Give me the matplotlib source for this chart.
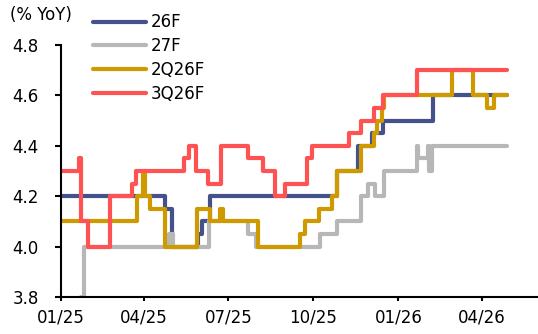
import matplotlib
matplotlib.use('Agg')
import matplotlib.pyplot as plt
import matplotlib.dates as mdates
import pandas as pd

# consensus forecasts, step changes (date, % YoY)
d_26f = ['2025-01-01', '2025-04-23', '2025-05-01', '2025-05-29', '2025-06-03', '2025-06-11',
         '2025-10-26', '2025-11-18', '2025-12-03', '2025-12-15', '2026-02-07', '2026-04-28']
v_26f = [4.2, 4.15, 4.0, 4.05, 4.1, 4.2, 4.3, 4.4, 4.45, 4.5, 4.6, 4.6]

d_27f = ['2025-01-23', '2025-01-26', '2025-04-28', '2025-05-02', '2025-06-10', '2025-07-22',
         '2025-07-31', '2025-10-08', '2025-10-27', '2025-11-22', '2025-11-29', '2025-12-07',
         '2025-12-16', '2026-01-21', '2026-01-22', '2026-02-02', '2026-02-03', '2026-02-06',
         '2026-04-28']
v_27f = [3.8, 4.0, 4.05, 4.0, 4.1, 4.05, 4.0, 4.05, 4.1, 4.2, 4.25, 4.2, 4.3, 4.4, 4.35,
         4.4, 4.3, 4.4, 4.4]

d_2q = ['2025-01-01', '2025-03-24', '2025-03-31', '2025-04-02', '2025-04-07', '2025-04-24',
        '2025-05-28', '2025-06-11', '2025-06-22', '2025-06-25', '2025-08-02', '2025-09-16',
        '2025-09-22', '2025-10-07', '2025-10-21', '2025-10-26', '2025-11-21', '2025-12-06',
        '2025-12-09', '2025-12-14', '2025-12-16', '2026-02-28', '2026-03-23', '2026-04-07',
        '2026-04-14', '2026-04-28']
v_2q = [4.1, 4.2, 4.3, 4.2, 4.15, 4.0, 4.15, 4.1, 4.15, 4.1, 4.0, 4.05, 4.1, 4.15, 4.2,
        4.3, 4.4, 4.45, 4.5, 4.55, 4.6, 4.7, 4.6, 4.55, 4.6, 4.6]

d_3q = ['2025-01-01', '2025-01-20', '2025-01-23', '2025-01-30', '2025-02-23', '2025-03-19',
        '2025-03-23', '2025-05-14', '2025-05-19', '2025-05-27', '2025-06-09', '2025-06-23',
        '2025-07-22', '2025-08-07', '2025-08-21', '2025-08-31', '2025-09-24', '2025-09-30',
        '2025-11-09', '2025-11-22', '2025-12-06', '2025-12-15', '2026-01-21', '2026-04-28']
v_3q = [4.3, 4.35, 4.1, 4.0, 4.2, 4.25, 4.3, 4.35, 4.4, 4.3, 4.25, 4.4, 4.35, 4.3, 4.2,
        4.25, 4.35, 4.4, 4.45, 4.5, 4.55, 4.6, 4.7, 4.7]

series = [('26F', d_26f, v_26f, '#43528A'),
          ('27F', d_27f, v_27f, '#B7B7B7'),
          ('2Q26F', d_2q, v_2q, '#CE9A00'),
          ('3Q26F', d_3q, v_3q, '#FF5252')]

plt.rcParams['font.family'] = ['DejaVu Sans']
plt.rcParams['font.size'] = 12

fig = plt.figure(figsize=(5.38, 3.34), dpi=100)
ax = fig.add_axes([0.1134, 0.1108, 0.885, 0.7545])

for name, d, v, c in series:
    ax.step(pd.to_datetime(d), v, where='post', color=c, lw=3, label=name,
            solid_capstyle='round', solid_joinstyle='round')

ax.set_ylim(3.8, 4.8)
ax.set_yticks([3.8, 4.0, 4.2, 4.4, 4.6, 4.8])
ax.yaxis.set_major_formatter(matplotlib.ticker.FormatStrFormatter('%.1f'))
ax.set_xlim(pd.Timestamp('2025-01-01'), pd.Timestamp('2026-05-31'))
ax.xaxis.set_major_locator(mdates.MonthLocator(bymonth=[1, 4, 7, 10]))
ax.xaxis.set_major_formatter(mdates.DateFormatter('%m/%y'))

for s in ['top', 'right']:
    ax.spines[s].set_visible(False)
for s in ['left', 'bottom']:
    ax.spines[s].set_linewidth(1.5)
ax.tick_params(axis='y', direction='out', length=4, width=1.5, pad=12)
ax.tick_params(axis='x', direction='out', length=3, width=1.5, pad=5)

ax.legend(loc='upper left', bbox_to_anchor=(0.067, 1.125), frameon=False,
          borderpad=0, borderaxespad=0, handlelength=3.2, handletextpad=0.25,
          labelspacing=0.35)

fig.text(0.018, 0.955, '(% YoY)', fontsize=12, va='center', ha='left')

fig.savefig('out.png', dpi=100)
